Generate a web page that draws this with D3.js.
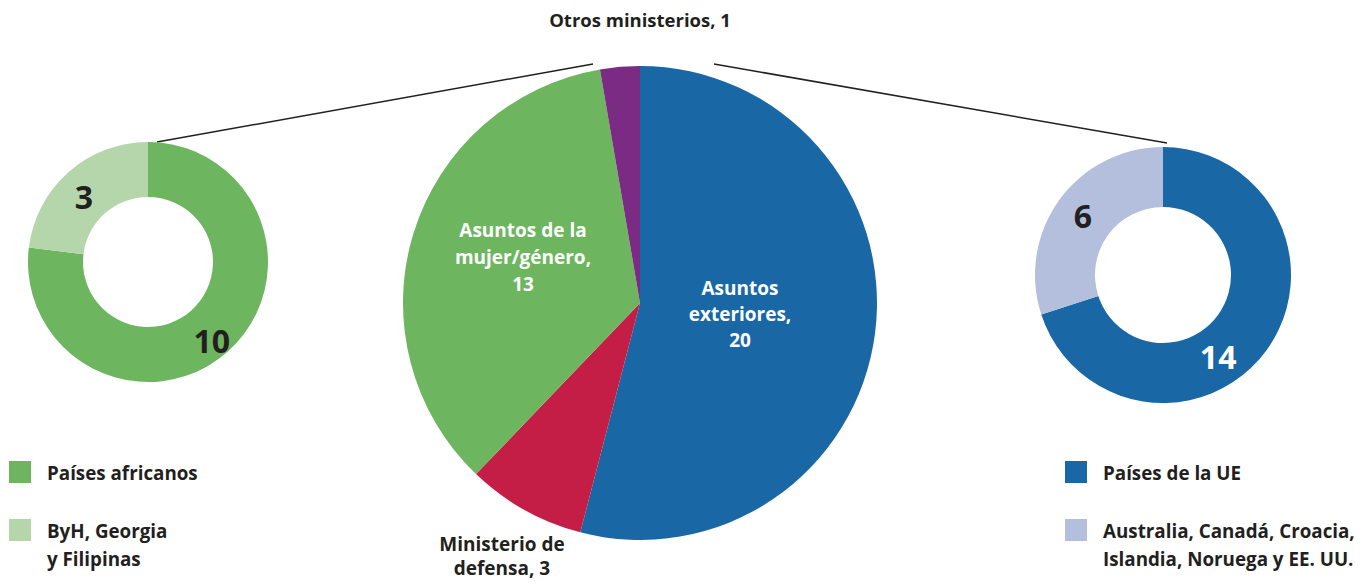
<!DOCTYPE html>
<html>
<head>
<meta charset="utf-8">
<script src="https://cdn.jsdelivr.net/npm/d3@7"></script>
<style>
  body { margin: 0; background: #fff; }
  text { font-family: "Open Sans", sans-serif; font-weight: 700; fill: #231f20; }
</style>
</head>
<body>
<div id="chart"></div>
<script>
// central pie: ministries
var ministries = ["Asuntos exteriores", "Ministerio de defensa", "Asuntos de la mujer/género", "Otros ministerios"];
var ministryValues = [20, 3, 13, 1];

// left donut: asuntos de la mujer/género partners
var leftGroups = ["Países africanos", "ByH, Georgia y Filipinas"];
var leftValues = [10, 3];

// right donut: asuntos exteriores partners
var rightGroups = ["Países de la UE", "Australia, Canadá, Croacia, Islandia, Noruega y EE. UU."];
var rightValues = [14, 6];

var width = 1372, height = 583;
var svg = d3.select("#chart").append("svg")
    .attr("width", width)
    .attr("height", height);

var pie = d3.pie().sort(null).value(function(d) { return d; });

// connector lines (drawn first, under everything)
svg.append("line")
    .attr("x1", 157).attr("y1", 142).attr("x2", 593).attr("y2", 64)
    .attr("stroke", "#231f20").attr("stroke-width", 1.5);
svg.append("line")
    .attr("x1", 714).attr("y1", 64).attr("x2", 1167).attr("y2", 143)
    .attr("stroke", "#231f20").attr("stroke-width", 1.5);

// ---- central pie
var mColor = d3.scaleOrdinal().domain(ministries)
    .range(["#1967a5", "#c41e47", "#6db55f", "#7b2b83"]);
var centre = svg.append("g").attr("transform", "translate(640,303)");
var bigArc = d3.arc().innerRadius(0).outerRadius(237);
centre.selectAll("path")
    .data(pie(ministryValues))
    .enter().append("path")
    .attr("d", bigArc)
    .attr("fill", function(d, i) { return mColor(ministries[i]); });

function multiline(g, lines, x, y, lh, size, color) {
    var t = g.append("text")
        .attr("text-anchor", "middle")
        .style("font-size", size + "px")
        .style("fill", color);
    lines.forEach(function(l, i) {
        t.append("tspan").attr("x", x).attr("y", y + i * lh).text(l);
    });
}

multiline(svg, ["Asuntos", "exteriores,", String(ministryValues[0])], 740, 295, 26, 19, "#fff");
multiline(svg, ["Asuntos de la", "mujer/género,", String(ministryValues[2])], 523, 237, 27, 19, "#fff");
multiline(svg, ["Ministerio de", "defensa, " + ministryValues[1]], 502, 551, 24, 19, "#231f20");
multiline(svg, ["Otros ministerios, " + ministryValues[3]], 640, 27, 20, 18.5, "#231f20");

// ---- donuts
// labelAt: where along each slice (0..1) its number sits; labelR: how far out
function donut(cx, cy, rOuter, rInner, values, colors, labelR, labelAt, labelColors) {
    var g = svg.append("g").attr("transform", "translate(" + cx + "," + cy + ")");
    var arc = d3.arc().innerRadius(rInner).outerRadius(rOuter);
    var arcs = pie(values);
    g.selectAll("path")
        .data(arcs)
        .enter().append("path")
        .attr("d", arc)
        .attr("fill", function(d, i) { return colors[i]; });
    g.selectAll("text")
        .data(arcs)
        .enter().append("text")
        .attr("transform", function(d, i) {
            var a = d.startAngle + labelAt[i] * (d.endAngle - d.startAngle);
            return "translate(" + (Math.sin(a) * labelR[i]) + "," + (-Math.cos(a) * labelR[i]) + ")";
        })
        .attr("text-anchor", "middle")
        .attr("dy", "0.36em")
        .style("font-size", "32px")
        .style("fill", function(d, i) { return labelColors[i]; })
        .text(function(d) { return d.data; });
}

donut(148, 262, 120, 65, leftValues, ["#6db55f", "#b5d6aa"], [102, 91], [0.51, 0.46], ["#231f20", "#231f20"]);
donut(1163, 275, 128, 68, rightValues, ["#1967a5", "#b3bfdd"], [99, 99], [0.58, 0.5], ["#fff", "#231f20"]);

// ---- legends
function legend(x, names, colors) {
    var rows = [[names[0]], wrapLines(names[1])];
    var ys = [461, 519];
    rows.forEach(function(lines, i) {
        svg.append("rect")
            .attr("x", x).attr("y", ys[i])
            .attr("width", 22).attr("height", 22)
            .attr("fill", colors[i]);
        var t = svg.append("text")
            .attr("x", x + 38)
            .style("font-size", "18.8px");
        lines.forEach(function(l, j) {
            t.append("tspan").attr("x", x + 38).attr("y", ys[i] + 19 + j * 28).text(l);
        });
    });
}
function wrapLines(s) {
    if (s === "ByH, Georgia y Filipinas") return ["ByH, Georgia", "y Filipinas"];
    if (s.indexOf("Islandia") >= 0) return ["Australia, Canadá, Croacia,", "Islandia, Noruega y EE. UU."];
    return [s];
}
legend(9, leftGroups, ["#6db55f", "#b5d6aa"]);
legend(1065, rightGroups, ["#1967a5", "#b3bfdd"]);
</script>
</body>
</html>
